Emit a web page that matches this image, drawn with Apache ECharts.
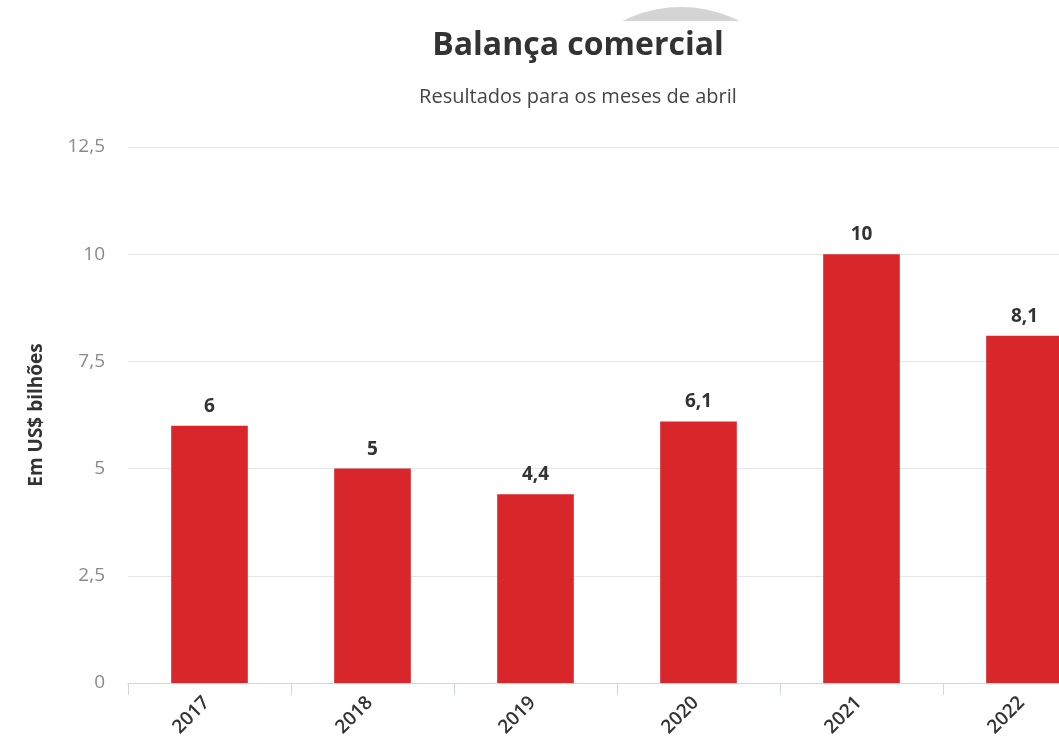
<!DOCTYPE html>
<html>
<head>
<meta charset="utf-8">
<script src="https://cdn.jsdelivr.net/npm/echarts@6/dist/echarts.min.js"></script>
<style>
html,body{margin:0;padding:0;background:#fff;overflow:hidden;}
#chart{width:1059px;height:743px;}
</style>
</head>
<body>
<div id="chart"></div>
<script>
const categories = ['2017', '2018', '2019', '2020', '2021', '2022'];
const values = [6, 5, 4.4, 6.1, 10, 8.1];
const yTicks = [0, 2.5, 5, 7.5, 10, 12.5];
const titleText = 'Balança comercial';
const subtitleText = 'Resultados para os meses de abril';
const yAxisName = 'Em US$ bilhões';

const fmt = v => String(v).replace('.', ',');
const FONT = "'Open Sans', sans-serif";

const chart = echarts.init(document.getElementById('chart'));
chart.setOption({
  backgroundColor: '#ffffff',
  animation: false,
  textStyle: { fontFamily: FONT },
  graphic: [
    { type: 'circle', z: -10, shape: { cx: 681, cy: 136, r: 129 }, style: { fill: '#d4d4d4' } },
    { type: 'rect', z: -9, shape: { x: 540, y: 21, width: 300, height: 250 }, style: { fill: '#ffffff' } }
  ],
  title: [
    {
      text: titleText,
      left: 573, top: 25, textAlign: 'center',
      textStyle: { fontFamily: FONT, fontSize: 32, fontWeight: 'bold', color: '#333333' }
    },
    {
      text: subtitleText,
      left: 573, top: 82, textAlign: 'center',
      textStyle: { fontFamily: FONT, fontSize: 20, fontWeight: 'normal', color: '#444444' }
    }
  ],
  grid: { left: 128, top: 147, bottom: 60, width: 978, containLabel: false, outerBoundsMode: 'none' },
  xAxis: {
    type: 'category',
    data: categories,
    axisLine: { lineStyle: { color: '#ccd6eb', width: 1 } },
    axisTick: { show: true, length: 12, lineStyle: { color: '#ccd6eb' } },
    axisLabel: { rotate: 45, fontSize: 19, fontWeight: 600, color: '#333333', fontFamily: FONT, margin: 14, padding: [0, 4, 0, 0] }
  },
  yAxis: {
    type: 'value',
    min: yTicks[0], max: yTicks[yTicks.length - 1], interval: yTicks[1] - yTicks[0],
    name: yAxisName,
    nameLocation: 'middle',
    nameGap: 82,
    nameTextStyle: { fontFamily: FONT, fontSize: 19, fontWeight: 'bold', color: '#333333' },
    axisLine: { show: false },
    axisTick: { show: false },
    axisLabel: { formatter: v => fmt(v), fontSize: 19, color: '#8a8a8a', margin: 23, fontFamily: FONT },
    splitLine: { lineStyle: { color: '#e6e6e6', width: 1 } }
  },
  series: [{
    type: 'bar',
    data: values,
    barWidth: '47%',
    itemStyle: { color: '#d8262a' },
    label: {
      show: true, position: 'top', distance: 10,
      formatter: p => fmt(p.value),
      fontFamily: FONT, fontSize: 19, fontWeight: 'bold', color: '#333333'
    }
  }]
});
</script>
</body>
</html>
